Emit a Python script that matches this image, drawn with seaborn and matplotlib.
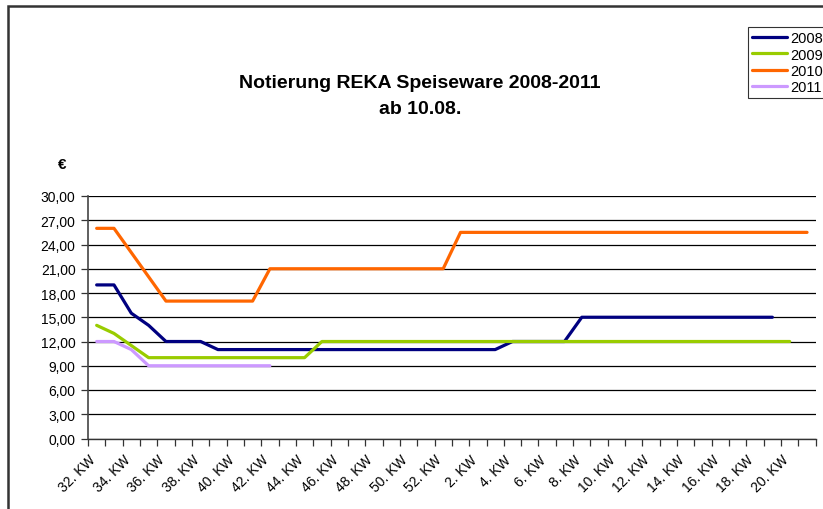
import numpy as np
import pandas as pd
import seaborn as sns
import matplotlib.pyplot as plt
import matplotlib.transforms as mtransforms
from matplotlib.patches import Rectangle
from matplotlib.ticker import FixedLocator, FuncFormatter

# categories: calendar weeks from week 32 of one year to week 21 of the next
weeks = list(range(32, 53)) + list(range(1, 22))
week_labels = [f'{w}. KW' for w in weeks]

# prices in EUR per category
price_2008 = [19, 19, 15.5, 14, 12, 12, 12, 11, 11, 11,
              11, 11, 11, 11, 11, 11, 11, 11, 11, 11,
              11, 11, 11, 11, 12, 12, 12, 12, 15, 15,
              15, 15, 15, 15, 15, 15, 15, 15, 15, 15]
price_2009 = [14, 13, 11.5, 10, 10, 10, 10, 10, 10, 10,
              10, 10, 10, 12, 12, 12, 12, 12, 12, 12,
              12, 12, 12, 12, 12, 12, 12, 12, 12, 12,
              12, 12, 12, 12, 12, 12, 12, 12, 12, 12,
              12]
price_2010 = [26, 26, 23, 20, 17, 17, 17, 17, 17, 17,
              21, 21, 21, 21, 21, 21, 21, 21, 21, 21,
              21, 25.5, 25.5, 25.5, 25.5, 25.5, 25.5, 25.5, 25.5, 25.5,
              25.5, 25.5, 25.5, 25.5, 25.5, 25.5, 25.5, 25.5, 25.5, 25.5,
              25.5, 25.5]
price_2011 = [12, 12, 11, 9, 9, 9, 9, 9, 9, 9, 9]

series = {'2008': price_2008, '2009': price_2009, '2010': price_2010, '2011': price_2011}
colors = {'2008': '#000080', '2009': '#99CC00', '2010': '#FF6600', '2011': '#CC99FF'}
y_ticks = [0, 3, 6, 9, 12, 15, 18, 21, 24, 27, 30]

rows = []
for year, values in series.items():
    for i, v in enumerate(values):
        rows.append({'pos': i, 'week': week_labels[i], 'price': v, 'Jahr': year})
df = pd.DataFrame(rows)

sns.set_style('white')
plt.rcParams['font.family'] = ['Liberation Sans', 'DejaVu Sans']
plt.rcParams['text.color'] = 'black'
plt.rcParams['xtick.color'] = 'black'
plt.rcParams['ytick.color'] = 'black'

fig = plt.figure(figsize=(8.23, 5.10), dpi=100)
ax = fig.add_axes([88 / 823, 1 - 439.5 / 510, (815.7 - 88) / 823, (439.5 - 197) / 510])

sns.lineplot(data=df, x='pos', y='price', hue='Jahr', palette=colors,
             linewidth=2.3, ax=ax, legend=False, sort=False)

n = len(weeks)
ax.set_xlim(-0.5, n - 0.5)
ax.set_ylim(0, 30)

# y axis
ax.set_yticks(y_ticks)
ax.yaxis.set_major_formatter(FuncFormatter(lambda v, p: f'{v:.2f}'.replace('.', ',')))
ax.grid(axis='y', color='black', linewidth=0.9)
ax.set_axisbelow(True)
ax.tick_params(axis='y', direction='out', length=5, width=0.9, color='#333333',
               labelcolor='black', labelsize=10, pad=4, left=True)

# x axis: tick marks between categories, label every second week
ax.xaxis.set_minor_locator(FixedLocator(np.arange(-0.5, n, 1.0)))
ax.set_xticks(range(0, n - 1, 2))
ax.set_xticklabels(week_labels[0:n - 1:2], rotation=45, ha='right',
                   rotation_mode='anchor', fontsize=10, color='black')
ax.tick_params(axis='x', which='major', length=0, pad=10)
ax.tick_params(axis='x', which='minor', direction='out', length=5, width=0.9,
               color='#333333', bottom=True)
shift = mtransforms.ScaledTranslation(-6 / 72, 0, fig.dpi_scale_trans)
for lbl in ax.get_xticklabels():
    lbl.set_transform(lbl.get_transform() + shift)
ax.set_xlabel('')
ax.set_ylabel('')

for side in ['top', 'right']:
    ax.spines[side].set_visible(False)
ax.spines['left'].set_color('#444444')
ax.spines['left'].set_linewidth(1.2)
ax.spines['bottom'].set_color('#333333')
ax.spines['bottom'].set_linewidth(1.0)

# titles
fig.text(420 / 823, 1 - 84 / 510, 'Notierung REKA Speiseware 2008-2011',
         ha='center', va='center', fontsize=14, fontweight='bold', color='black')
fig.text(420 / 823, 1 - 110 / 510, 'ab 10.08.',
         ha='center', va='center', fontsize=14, fontweight='bold', color='black')
fig.text(62 / 823, 1 - 165 / 510, '€', ha='center', va='center',
         fontsize=11, fontweight='bold', color='black')

# legend
handles = [plt.Line2D([], [], color=colors[y], linewidth=2.3) for y in series]
leg = fig.legend(handles, list(series.keys()), loc='upper left',
                 bbox_to_anchor=(748 / 823, 1 - 28 / 510), fontsize=10.5,
                 frameon=True, fancybox=False, handlelength=2.4,
                 handletextpad=0.2, labelspacing=0.15, borderpad=0.3,
                 borderaxespad=0, labelcolor='black')
leg.get_frame().set_edgecolor('black')
leg.get_frame().set_linewidth(0.8)

# outer chart border (runs off the right and bottom edge)
fig.patches.append(Rectangle((8 / 823, -0.2), 1.2, 1.2 - 7 / 510, transform=fig.transFigure,
                             fill=False, edgecolor='#333333', linewidth=1.8))

fig.savefig('out.png', dpi=100)
